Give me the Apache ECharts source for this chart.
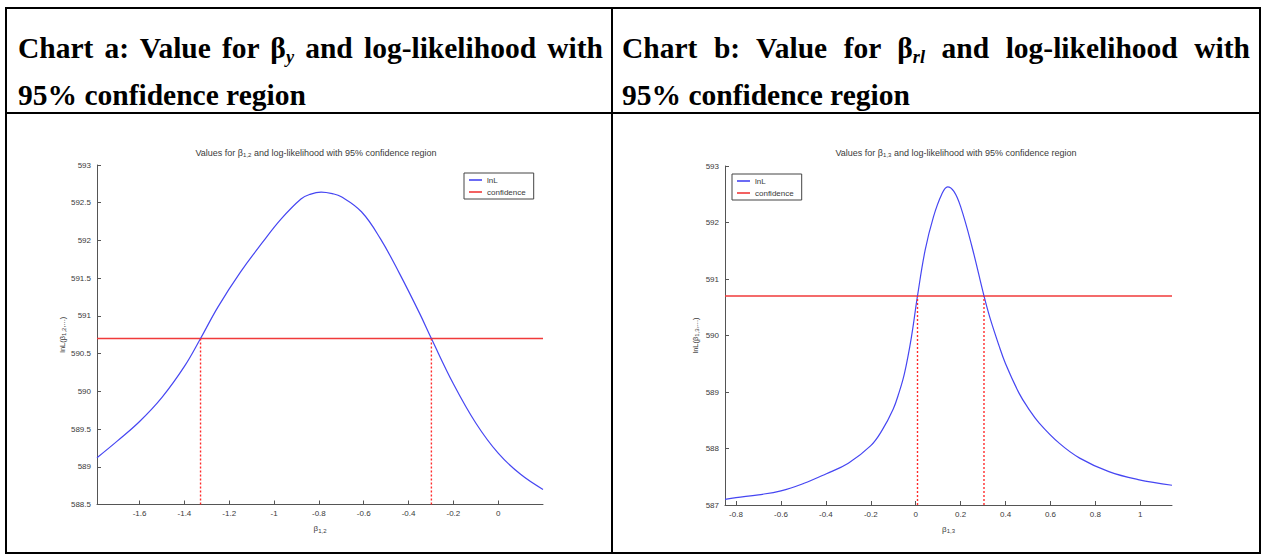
<!DOCTYPE html>
<html><head><meta charset="utf-8">
<script src="https://cdn.jsdelivr.net/npm/echarts@6/dist/echarts.min.js"></script>
<style>
html,body{margin:0;padding:0;background:#fff;}
#wrap{position:relative;width:1263px;height:556px;overflow:hidden;background:#fff;}
#chart{position:absolute;left:0;top:0;width:1263px;height:556px;}
.hd{position:absolute;font-family:"Liberation Serif","Times New Roman",serif;font-weight:bold;font-size:29.5px;line-height:30px;color:#000;white-space:nowrap;}
.j{text-align:justify;text-align-last:justify;}
.sb{font-size:0.62em;font-style:italic;vertical-align:-0.28em;}
.ln{position:absolute;background:#000;}
</style></head>
<body>
<div id="wrap">
  <div id="chart"></div>
  <div class="ln" style="left:5px;top:7px;width:1256px;height:2px"></div>
  <div class="ln" style="left:5px;top:112px;width:1256px;height:2px"></div>
  <div class="ln" style="left:5px;top:552px;width:1256px;height:2px"></div>
  <div class="ln" style="left:5px;top:7px;width:2px;height:547px"></div>
  <div class="ln" style="left:611px;top:7px;width:2px;height:547px"></div>
  <div class="ln" style="left:1259px;top:7px;width:2px;height:547px"></div>
  <div class="hd j" style="left:18px;top:33px;width:585px">Chart a: Value for β<span class="sb">y</span> and log-likelihood with</div>
  <div class="hd" style="left:18px;top:80px">95% confidence region</div>
  <div class="hd j" style="left:622px;top:33px;width:628px">Chart b: Value for β<span class="sb">rl</span> and log-likelihood with</div>
  <div class="hd" style="left:622px;top:80px">95% confidence region</div>
</div>
<script>
// ---- data ----
const leftX = [-1.79,-1.70,-1.60,-1.50,-1.40,-1.328,-1.25,-1.15,-1.05,-0.97,-0.88,-0.84,-0.79,-0.74,-0.70,-0.61,-0.525,-0.44,-0.35,-0.298,-0.20,-0.10,0.00,0.10,0.20];
const leftY = [589.12,589.34,589.60,589.92,590.33,590.70,591.12,591.58,591.98,592.28,592.55,592.61,592.64,592.62,592.58,592.38,592.02,591.56,591.03,590.70,590.10,589.58,589.18,588.90,588.70];
const rightX = [-0.849,-0.80,-0.70,-0.60,-0.50,-0.40,-0.30,-0.20,-0.15,-0.10,-0.075,-0.05,-0.02,0.008,0.042,0.079,0.116,0.142,0.17,0.20,0.25,0.304,0.33,0.37,0.40,0.46,0.50,0.55,0.64,0.73,0.86,0.99,1.141];
const rightY = [587.10,587.13,587.18,587.25,587.38,587.55,587.74,588.05,588.32,588.70,588.98,589.33,589.95,590.70,591.51,592.10,592.50,592.63,592.55,592.28,591.58,590.70,590.32,589.83,589.50,588.98,588.72,588.45,588.09,587.83,587.59,587.45,587.35];
const confLevel = 590.70;
const leftBounds = [-1.328, -0.298];
const rightBounds = [0.008, 0.304];
const leftRange = [-1.79, 0.20];
const rightRange = [-0.849, 1.141];
const leftYRange = [588.5, 593];
const rightYRange = [587, 593];
const leftXTicks = [-1.6,-1.4,-1.2,-1,-0.8,-0.6,-0.4,-0.2,0];
const rightXTicks = [-0.8,-0.6,-0.4,-0.2,0,0.2,0.4,0.6,0.8,1];
const legendNames = ['lnL','confidence'];
const titleLeft = 'Values for β{s|1,2} and log-likelihood with 95% confidence region';
const titleRight = 'Values for β{s|1,3} and log-likelihood with 95% confidence region';
const yNameLeft = 'lnL(β{s|1,2},...)';
const yNameRight = 'lnL(β{s|1,3},...)';
const xNameLeft = 'β{s|1,2}';
const xNameRight = 'β{s|1,3}';

const zip = (xs, ys) => xs.map((x, i) => [x, ys[i]]);
const FONT = 'Liberation Sans';
const TXT = '#3a3a3a';
const BLUE = '#4646f2';
const RED = '#f03a3a';
const DOT = '#ff2a2a';
const rich = { s: { fontSize: 6, fontFamily: FONT, color: TXT, padding: [4, 0, 0, 0] } };

function xAxisDef(idx, range, ticks, name) {
  return {
    type: 'value', gridIndex: idx, min: range[0], max: range[1],
    name: name, nameLocation: 'middle', nameGap: 19,
    nameTextStyle: { fontSize: 8, fontFamily: FONT, color: TXT, rich: rich },
    axisLine: { show: true, onZero: false, lineStyle: { color: '#555', width: 1 } },
    axisTick: { show: true, inside: true, length: 4, customValues: ticks, lineStyle: { color: '#555' } },
    axisLabel: { customValues: ticks, fontSize: 8, fontFamily: FONT, color: TXT, margin: 5 },
    splitLine: { show: false }
  };
}
function yAxisDef(idx, range, interval, name) {
  return {
    type: 'value', gridIndex: idx, min: range[0], max: range[1], interval: interval,
    name: name, nameLocation: 'middle', nameGap: 25, nameRotate: 90,
    nameTextStyle: { fontSize: 7.5, fontFamily: FONT, color: TXT, rich: rich },
    axisLine: { show: true, onZero: false, lineStyle: { color: '#555', width: 1 } },
    axisTick: { show: true, inside: true, length: 4, lineStyle: { color: '#555' } },
    axisLabel: { fontSize: 8, fontFamily: FONT, color: TXT, margin: 6 },
    splitLine: { show: false }
  };
}
function legendDef(left, top) {
  return {
    data: legendNames, left: left, top: top, orient: 'vertical',
    icon: 'rect', itemWidth: 13, itemHeight: 1.6, itemGap: 2, itemTextGap: 7,
    padding: [2, 8, 2, 5], borderColor: '#444', borderWidth: 1, backgroundColor: '#fff',
    textStyle: { fontSize: 8, fontFamily: FONT, color: TXT, lineHeight: 10 },
    selectedMode: false
  };
}
function seriesFor(idx, xs, ys, range, yMin, bounds) {
  const boundData = [];
  bounds.forEach((b, k) => {
    if (k > 0) boundData.push('-');
    boundData.push([b, yMin], [b, confLevel]);
  });
  return [
    { name: 'lnL', type: 'line', xAxisIndex: idx, yAxisIndex: idx, data: zip(xs, ys), smooth: 0.4,
      showSymbol: false, lineStyle: { color: BLUE, width: 1.2 }, itemStyle: { color: BLUE }, z: 3 },
    { name: 'confidence', type: 'line', xAxisIndex: idx, yAxisIndex: idx,
      data: [[range[0], confLevel], [range[1], confLevel]],
      showSymbol: false, lineStyle: { color: RED, width: 1.5 }, itemStyle: { color: RED }, z: 2 },
    { name: 'bounds' + idx, type: 'line', xAxisIndex: idx, yAxisIndex: idx,
      data: boundData, showSymbol: false, connectNulls: false, z: 5,
      itemStyle: { color: DOT }, color: DOT,
      lineStyle: { color: DOT, width: 1.4, type: [2, 2], opacity: 1 } }
  ];
}

const chart = echarts.init(document.getElementById('chart'), null, { renderer: 'svg' });
chart.setOption({
  animation: false,
  backgroundColor: 'transparent',
  grid: [
    { left: 97, top: 165, width: 446, height: 339.5 },
    { left: 725, top: 166, width: 447, height: 339 }
  ],
  xAxis: [xAxisDef(0, leftRange, leftXTicks, xNameLeft), xAxisDef(1, rightRange, rightXTicks, xNameRight)],
  yAxis: [yAxisDef(0, leftYRange, 0.5, yNameLeft), yAxisDef(1, rightYRange, 1, yNameRight)],
  legend: [legendDef(464, 173), legendDef(732, 174)],
  graphic: [
    { type: 'text', x: 316, y: 153, style: { text: titleLeft, rich: rich, align: 'center', verticalAlign: 'middle', fontSize: 9, fontFamily: FONT, fill: TXT } },
    { type: 'text', x: 956, y: 153, style: { text: titleRight, rich: rich, align: 'center', verticalAlign: 'middle', fontSize: 9, fontFamily: FONT, fill: TXT } }
  ],
  series: [].concat(
    seriesFor(0, leftX, leftY, leftRange, leftYRange[0], leftBounds),
    seriesFor(1, rightX, rightY, rightRange, rightYRange[0], rightBounds)
  )
});
</script>
</body></html>
